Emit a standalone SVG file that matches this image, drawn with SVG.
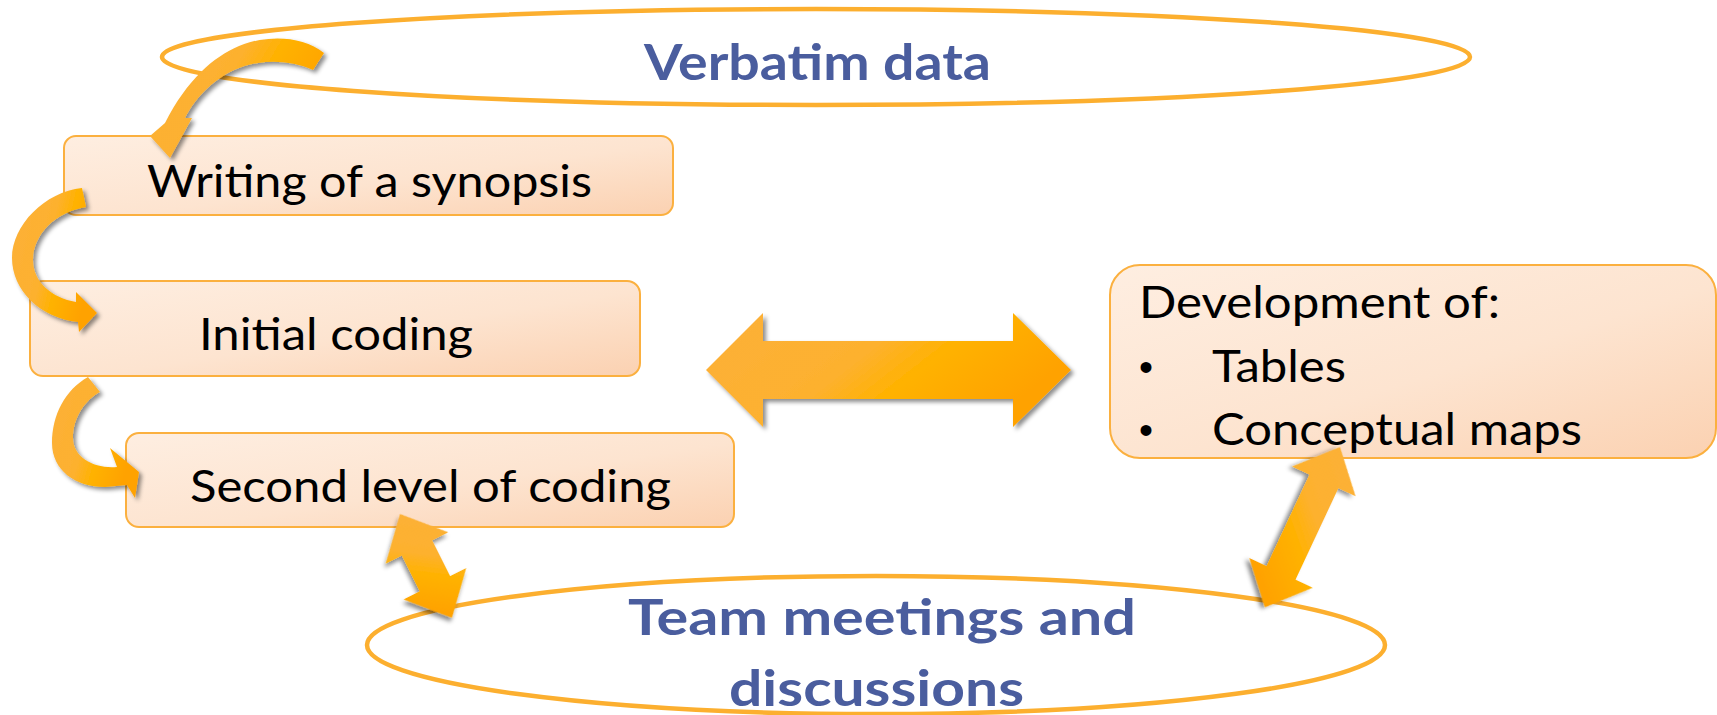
<svg xmlns="http://www.w3.org/2000/svg" width="1717" height="715" viewBox="0 0 1717 715">
  <defs>
    <linearGradient id="boxFill" x1="0" y1="0" x2="1" y2="1">
      <stop offset="0" stop-color="#FEEEE1"/>
      <stop offset="0.55" stop-color="#FDE4D0"/>
      <stop offset="1" stop-color="#FBD1B1"/>
    </linearGradient>
    <linearGradient id="arrowFill" x1="0" y1="0" x2="1" y2="0.4">
      <stop offset="0" stop-color="#FCB03A"/>
      <stop offset="0.5" stop-color="#FDB12E"/>
      <stop offset="0.68" stop-color="#FFB200"/>
      <stop offset="1" stop-color="#FFA200"/>
    </linearGradient>
    <filter id="shadow" x="-20%" y="-20%" width="150%" height="150%">
      <feDropShadow dx="3" dy="3" stdDeviation="2.2" flood-color="#000" flood-opacity="0.45"/>
    </filter>
    <style>
      .box { fill: url(#boxFill); stroke: #FBB03F; stroke-width: 2; }
      .ring { fill: none; stroke: #FCAF2F; stroke-width: 4.5; }
      .arrow { fill: url(#arrowFill); filter: url(#shadow); }
      .label { font-family: Lato, "Liberation Sans", sans-serif; font-size: 44px; fill: #000; }
      .bullet { font-family: "Liberation Sans", sans-serif; font-size: 40px; fill: #000; }
      .title { font-family: Lato, "Liberation Sans", sans-serif; font-size: 50px; font-weight: bold; fill: #4A5D9E; }
    </style>
  </defs>
  <rect width="1717" height="715" fill="#FFFFFF"/>

  <g id="verbatim-data">
    <ellipse class="ring" cx="816" cy="57" rx="654" ry="48"/>
    <text class="title" x="644" y="80" textLength="347" lengthAdjust="spacingAndGlyphs">Verbatim data</text>
  </g>

  <g id="team-meetings">
    <ellipse class="ring" cx="876" cy="645" rx="509" ry="69"/>
    <text class="title" x="628" y="635" textLength="508" lengthAdjust="spacingAndGlyphs">Team meetings and</text>
    <text class="title" x="729" y="706" textLength="295" lengthAdjust="spacingAndGlyphs">discussions</text>
  </g>

  <g id="writing-synopsis">
    <rect class="box" x="64" y="136" width="609" height="79" rx="12"/>
    <text class="label" x="147" y="197" textLength="445" lengthAdjust="spacingAndGlyphs">Writing of a synopsis</text>
  </g>

  <g id="initial-coding">
    <rect class="box" x="30" y="281" width="610" height="95" rx="13"/>
    <text class="label" x="199" y="350" textLength="274" lengthAdjust="spacingAndGlyphs">Initial coding</text>
  </g>

  <g id="second-level">
    <rect class="box" x="126" y="433" width="608" height="94" rx="13"/>
    <text class="label" x="190" y="502" textLength="481" lengthAdjust="spacingAndGlyphs">Second level of coding</text>
  </g>

  <g id="development">
    <rect class="box" x="1110" y="265" width="606" height="193" rx="30"/>
    <text class="label" x="1139" y="318" textLength="361" lengthAdjust="spacingAndGlyphs">Development of:</text>
    <text class="bullet" x="1139" y="381">•</text>
    <text class="label" x="1212" y="382" textLength="134" lengthAdjust="spacingAndGlyphs">Tables</text>
    <text class="bullet" x="1139" y="444">•</text>
    <text class="label" x="1212" y="445" textLength="370" lengthAdjust="spacingAndGlyphs">Conceptual maps</text>
  </g>

  <g id="connectors">
    <path class="arrow" d="M324,53 C302,35 265,35 239,46 C213,57 187,80 165,123 L150,136 L170,158 L192,118 L185,118 C196,96 216,77 239,68 C263,59 290,60 313,70 Z"/>
    <path class="arrow" d="M82,188 C45,192 12,225 12,258 C12,290 40,318 78,322 L79,332 L97,313 L76,292 L76,302 C52,298 33,282 33,260 C33,235 55,212 86,207 Z"/>
    <path class="arrow" d="M88,377 C65,390 52,415 52,443 C52,470 75,487 105,487 L127,485 L135,498 L139,472 L110,448 L117,467 C95,469 73,458 73,438 C73,418 85,400 100,392 Z"/>
    <polygon class="arrow" points="706,370 763,313 763,341 1013,341 1013,313 1071,370 1013,427 1013,399 763,399 763,427"/>
    <polygon class="arrow" transform="translate(400,514) rotate(63.4)" points="0,0 38,-35 38,-17 78,-17 78,-35 116,0 78,35 78,17 38,17 38,35"/>
    <polygon class="arrow" transform="translate(1340,447) rotate(115.1)" points="0,0 38,-35 38,-16 139,-16 139,-35 177,0 139,35 139,16 38,16 38,35"/>
  </g>
</svg>
